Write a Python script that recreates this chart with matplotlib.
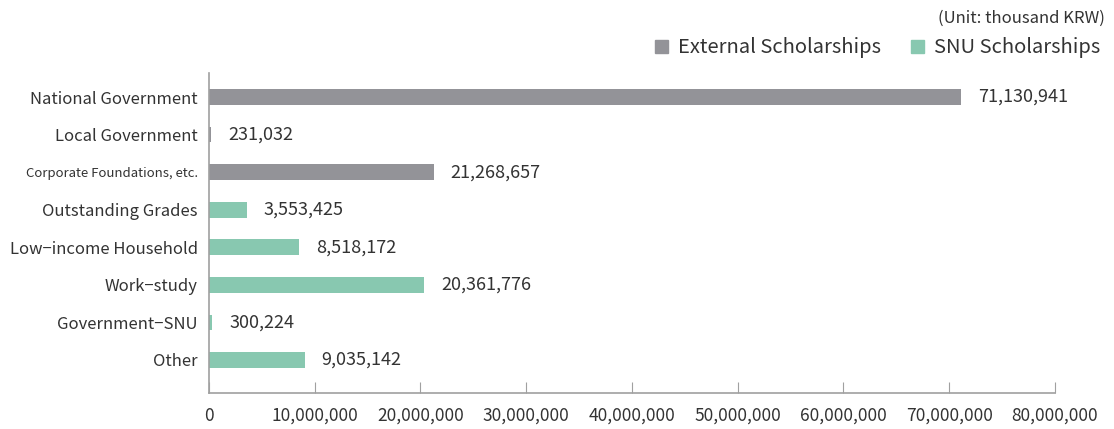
import matplotlib
matplotlib.use('Agg')
import matplotlib.pyplot as plt
import numpy as np
from matplotlib.patches import Patch

plt.rcParams['font.family'] = ['Noto Sans CJK KR', 'DejaVu Sans']

categories = ["National Government", "Local Government", "Corporate Foundations, etc.",
              "Outstanding Grades", "Low-income Household", "Work-study",
              "Government-SNU", "Other"]
values = [71130941, 231032, 21268657, 3553425, 8518172, 20361776, 300224, 9035142]
groups = ["External Scholarships"] * 3 + ["SNU Scholarships"] * 5
xticks = [0, 10000000, 20000000, 30000000, 40000000, 50000000, 60000000, 70000000, 80000000]

colors = {"External Scholarships": "#939398", "SNU Scholarships": "#88c8b0"}
text_c = "#333333"

fig = plt.figure(figsize=(11.14, 4.29), dpi=100)
ax = fig.add_axes([0.1876, 0.0839, 0.7594, 0.7459])

y = np.arange(len(categories))
ax.barh(y, values, height=0.42, color=[colors[g] for g in groups])
for yi, v in zip(y, values):
    ax.text(v + 1600000, yi, f"{v:,}", va='center', ha='left', fontsize=13, color=text_c)

ax.set_ylim(7.88, -0.64)
ax.set_xlim(0, 80000000)
ax.set_yticks(y)
ax.set_yticklabels([c.replace("-", "\u2212") for c in categories], fontsize=12, color=text_c)
ax.get_yticklabels()[2].set_fontsize(9.5)
ax.tick_params(axis='y', length=0, pad=8)
ax.set_xticks(xticks)
ax.set_xticklabels([f"{t:,}" for t in xticks], fontsize=12.5, color=text_c)
ax.tick_params(axis='x', direction='in', length=8, color='#a0a0a0', pad=10)

for s in ['top', 'right']:
    ax.spines[s].set_visible(False)
for s in ['left', 'bottom']:
    ax.spines[s].set_color('#a0a0a0')
    ax.spines[s].set_linewidth(1.2)

handles = [Patch(color=colors[g]) for g in ["External Scholarships", "SNU Scholarships"]]
fig.legend(handles, ["External Scholarships", "SNU Scholarships"], loc='upper right',
           bbox_to_anchor=(1.004, 0.955), ncol=2, frameon=False, fontsize=14.5,
           handlelength=0.65, handleheight=0.65, handletextpad=0.5, columnspacing=1.5,
           labelcolor=text_c)
fig.text(0.992, 0.957, "(Unit: thousand KRW)", ha='right', va='center', fontsize=12, color=text_c)

fig.savefig("out.png", dpi=100)
